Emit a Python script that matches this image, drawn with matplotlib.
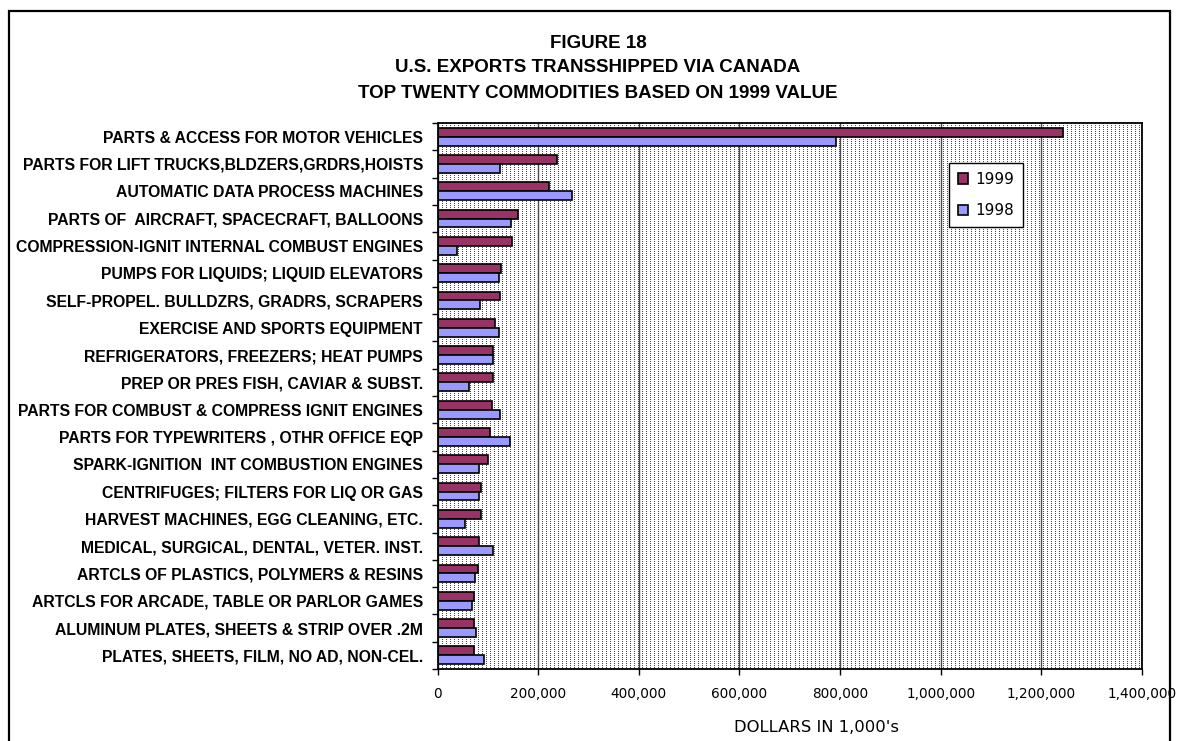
import numpy as np
import matplotlib
matplotlib.use("Agg")
import matplotlib.pyplot as plt
from matplotlib.patches import Rectangle
from matplotlib.ticker import FuncFormatter, FixedLocator

categories = [
    "PARTS & ACCESS FOR MOTOR VEHICLES",
    "PARTS FOR LIFT TRUCKS,BLDZERS,GRDRS,HOISTS",
    "AUTOMATIC DATA PROCESS MACHINES",
    "PARTS OF  AIRCRAFT, SPACECRAFT, BALLOONS",
    "COMPRESSION-IGNIT INTERNAL COMBUST ENGINES",
    "PUMPS FOR LIQUIDS; LIQUID ELEVATORS",
    "SELF-PROPEL. BULLDZRS, GRADRS, SCRAPERS",
    "EXERCISE AND SPORTS EQUIPMENT",
    "REFRIGERATORS, FREEZERS; HEAT PUMPS",
    "PREP OR PRES FISH, CAVIAR & SUBST.",
    "PARTS FOR COMBUST & COMPRESS IGNIT ENGINES",
    "PARTS FOR TYPEWRITERS , OTHR OFFICE EQP",
    "SPARK-IGNITION  INT COMBUSTION ENGINES",
    "CENTRIFUGES; FILTERS FOR LIQ OR GAS",
    "HARVEST MACHINES, EGG CLEANING, ETC.",
    "MEDICAL, SURGICAL, DENTAL, VETER. INST.",
    "ARTCLS OF PLASTICS, POLYMERS & RESINS",
    "ARTCLS FOR ARCADE, TABLE OR PARLOR GAMES",
    "ALUMINUM PLATES, SHEETS & STRIP OVER .2M",
    "PLATES, SHEETS, FILM, NO AD, NON-CEL.",
]
values_1999 = [1244000, 237000, 221000, 160000, 148000, 126000, 125000, 114000, 111000, 111000,
               108000, 104000, 101000, 86000, 86000, 82000, 80000, 73000, 73000, 72000]
values_1998 = [792000, 124000, 267000, 146000, 38000, 122000, 85000, 123000, 111000, 63000,
               124000, 144000, 82000, 83000, 55000, 111000, 75000, 69000, 76000, 93000]
series_labels = ["1999", "1998"]
x_ticks = [0, 200000, 400000, 600000, 800000, 1000000, 1200000, 1400000]
title_lines = ["FIGURE 18",
               "U.S. EXPORTS TRANSSHIPPED VIA CANADA",
               "TOP TWENTY COMMODITIES BASED ON 1999 VALUE"]
x_label = "DOLLARS IN 1,000's"

W, H = 1183, 741
fig = plt.figure(figsize=(W / 100, H / 100), dpi=100)
fig.patch.set_facecolor("white")

ax_l, ax_r, ax_t, ax_b = 437.5, 1142, 123, 669
ax = fig.add_axes([ax_l / W, 1 - ax_b / H, (ax_r - ax_l) / W, (ax_b - ax_t) / H])

n = len(categories)
y = np.arange(n)
bh = 0.325

# dotted background
pw, ph = int(ax_r - ax_l), int(ax_b - ax_t)
rr, cc = np.mgrid[0:ph, 0:pw]
dots = ((rr % 2 == 0) & (cc % 4 == 0))
img = np.ones((ph, pw, 3))
img[dots] = np.array([0x48, 0x48, 0x48]) / 255.0
ax.imshow(img, extent=[x_ticks[0], x_ticks[-1], n - 0.5, -0.5], aspect="auto",
          interpolation="nearest", zorder=0)

ax.barh(y - bh / 2, values_1999, height=bh, color="#993366", edgecolor="black",
        linewidth=1.2, label=series_labels[0], zorder=3)
ax.barh(y + bh / 2, values_1998, height=bh, color="#9999FF", edgecolor="black",
        linewidth=1.2, label=series_labels[1], zorder=3)

ax.set_xlim(x_ticks[0], x_ticks[-1])
ax.set_ylim(n - 0.5, -0.5)
ax.set_xticks(x_ticks)
ax.xaxis.set_major_formatter(FuncFormatter(lambda v, p: f"{int(v):,}"))
ax.grid(axis="x", color="#4a4a4a", linewidth=1.0)
ax.set_axisbelow(False)
for gl in ax.get_xgridlines():
    gl.set_zorder(1)

ax.set_yticks(y)
ax.set_yticklabels(categories, fontfamily="Liberation Sans", fontweight="bold", fontsize=11.3)
ax.yaxis.set_minor_locator(FixedLocator(np.arange(-0.5, n, 1.0)))
ax.tick_params(axis="y", which="major", length=0, pad=10.5)
ax.tick_params(axis="y", which="minor", length=4, width=1, direction="out", color="black")
ax.tick_params(axis="x", which="major", length=4, width=1, direction="out", pad=9,
               labelsize=9.8)
for lab in ax.get_xticklabels():
    lab.set_fontfamily("DejaVu Sans")

for s in ax.spines.values():
    s.set_color("black")
    s.set_linewidth(1.3)
    s.set_zorder(4)

fig.text(816 / W, 1 - 727 / H, x_label, ha="center", va="center",
         fontfamily="DejaVu Sans", fontsize=11.8)

for txt, ty in zip(title_lines, [43, 68, 93]):
    fig.text(598 / W, 1 - ty / H, txt, ha="center", va="center",
             fontfamily="Liberation Sans", fontweight="bold", fontsize=13.5)

leg = fig.legend(loc="upper left", bbox_to_anchor=(949 / W, 1 - 163 / H),
                 bbox_transform=fig.transFigure, borderaxespad=0,
                 frameon=True, fancybox=False, edgecolor="black", facecolor="white",
                 framealpha=1, handlelength=0.68, handleheight=0.68, handletextpad=0.45,
                 labelspacing=1.07, borderpad=0.59, prop={"family": "DejaVu Sans", "size": 11})
leg.get_frame().set_linewidth(1.0)

fig.add_artist(Rectangle((9 / W, -0.05), (1170 - 9) / W, (H - 11) / H + 0.05,
                         transform=fig.transFigure, fill=False, edgecolor="black",
                         linewidth=1.6, clip_on=False))

fig.savefig("out.png", dpi=100)
